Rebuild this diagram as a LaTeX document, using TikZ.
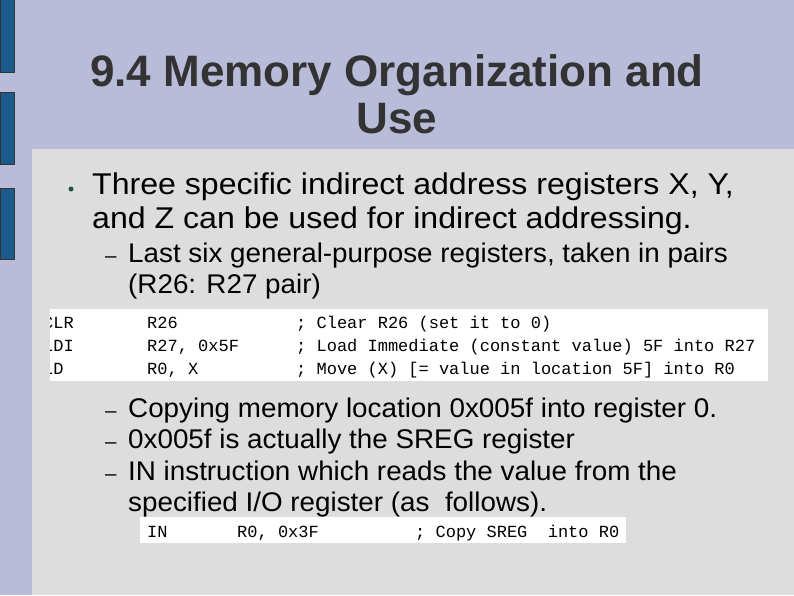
\documentclass[tikz,border=0pt]{standalone}
\usepackage{fontspec}
\setmainfont{Liberation Sans}
\newfontfamily\codefont{Liberation Mono}
\newfontfamily\bodyfont[FakeStretch=1.07]{Liberation Sans}
\newfontfamily\subfont[FakeStretch=1.03]{Liberation Sans}
\definecolor{bg}{HTML}{B8BCD8}
\definecolor{panel}{HTML}{DDDDDD}
\definecolor{barc}{HTML}{1A5A8C}
\definecolor{dot}{HTML}{1E5050}
\begin{document}
\begin{tikzpicture}[x=1pt,y=-1pt,
  bar/.style={fill=barc,draw=black!80,line width=0.6pt},
  txt/.style={anchor=base west,inner sep=0pt,font=\bodyfont\fontsize{30}{34}\selectfont},
  sub/.style={anchor=base west,inner sep=0pt,font=\subfont\fontsize{27}{31}\selectfont},
  code/.style={anchor=base west,inner sep=0pt,font=\codefont\fontsize{17}{19}\selectfont},
  codeb/.style={anchor=base west,inner sep=0pt,font=\codefont\fontsize{17}{19}\selectfont}]
\useasboundingbox (0,0) rectangle (794,595);
\fill[bg] (0,0) rectangle (794,595);
\fill[panel] (32,149) rectangle (794,595);
\draw[bar] (0,-2) rectangle (14,72);
\draw[bar] (0,92) rectangle (14,164);
\draw[bar] (0,188) rectangle (14,259);
\node[anchor=base,inner sep=0pt,text=black!80,font=\fontsize{44}{50}\selectfont\bfseries] (t1) at (397,86) {9.4 Memory Organization and};
\node[anchor=base,inner sep=0pt,text=black!80,font=\fontsize{44}{50}\selectfont\bfseries] (t2) at (397,133) {Use};
\fill[dot] (71,189) circle (2.5);
\node[txt] (b1) at (92,194) {Three specific indirect address registers X, Y,};
\node[txt] (b2) at (92,228) {and Z can be used for indirect addressing.};
\node[sub] (d1) at (105,262) {\fontsize{20}{20}\selectfont –};
\node[sub] (s1) at (128,262) {Last six general-purpose registers, taken in pairs};
\node[sub] (s1b) at (128,293) {(R26: R27 pair)};
\fill[white] (50,309) rectangle (768,381);
\begin{scope}
\clip (50,309) rectangle (768,381);
\node[code] (c1a) at (43,328) {CLR};
\node[code] (c1b) at (147,328) {R26};
\node[code] (c1c) at (296,328) {; Clear R26 (set it to 0)};
\node[code] (c2a) at (43,351) {LDI};
\node[code] (c2b) at (147,351) {R27, 0x5F};
\node[code] (c2c) at (296,351) {; Load Immediate (constant value) 5F into R27};
\node[code] (c3a) at (43,374) {LD};
\node[code] (c3b) at (147,374) {R0, X};
\node[code] (c3c) at (296,374) {; Move (X) [= value in location 5F] into R0};
\end{scope}
\node[sub] (d2) at (105,417) {\fontsize{20}{20}\selectfont –};
\node[sub] (s2) at (128,417) {Copying memory location 0x005f into register 0.};
\node[sub] (d3) at (105,448) {\fontsize{20}{20}\selectfont –};
\node[sub] (s3) at (128,448) {0x005f is actually the SREG register};
\node[sub] (d4) at (105,480) {\fontsize{20}{20}\selectfont –};
\node[sub] (s4) at (128,480) {IN instruction which reads the value from the};
\node[sub] (s4b) at (128,511) {specified I/O register (as\ \ follows).};
\fill[white] (140,517) rectangle (626,543);
\begin{scope}
\clip (140,517) rectangle (626,543);
\node[codeb] (c4a) at (147,537) {IN};
\node[codeb] (c4b) at (237,537) {R0, 0x3F};
\node[codeb] (c4c) at (415,537) {; Copy SREG\ \ into R0};
\end{scope}
\end{tikzpicture}
\end{document}
